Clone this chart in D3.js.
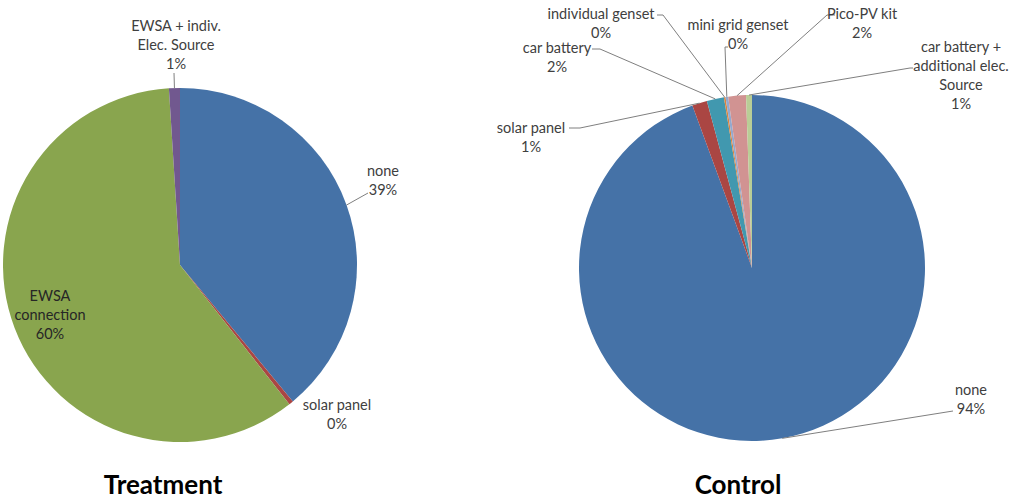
<!DOCTYPE html>
<html>
<head>
<meta charset="utf-8">
<script src="https://cdn.jsdelivr.net/npm/d3@7"></script>
<style>
  body { margin: 0; background: #fff; }
  svg { display: block; font-family: Lato, "Open Sans", sans-serif; }
</style>
</head>
<body>
<svg id="chart" width="1010" height="499"></svg>
<script>
// treatment group
const treatNames = ["none", "solar panel", "EWSA\nconnection", "EWSA + indiv.\nElec. Source"];
const treatValues = [39.0, 0.4, 59.6, 1.0];

// control group
const ctrlNames = ["none", "solar panel", "car battery", "individual genset", "mini grid genset",
  "Pico-PV kit", "car battery +\nadditional elec.\nSource"];
const ctrlValues = [94.4, 1.4, 1.6, 0.15, 0.25, 1.65, 0.55];

const titles = ["Treatment", "Control"];

const colorOf = {
  "none": "#4572A7",
  "solar panel": "#AA4643",
  "EWSA\nconnection": "#89A54E",
  "EWSA + indiv.\nElec. Source": "#71588F",
  "car battery": "#4198AF",
  "individual genset": "#DB843D",
  "mini grid genset": "#93A9CF",
  "Pico-PV kit": "#D19392",
  "car battery +\nadditional elec.\nSource": "#B9CD96"
};

const svg = d3.select("#chart");
const lineH = 19;

// where Excel put the labels (first line centre) + leader elbows
const treatLabels = {
  "none": { x: 383, y: 170, path: [[368, 193]] },
  "solar panel": { x: 337, y: 404 },
  "EWSA\nconnection": { x: 50, y: 295, dark: true },
  "EWSA + indiv.\nElec. Source": { x: 176, y: 25, path: [[174, 73]] }
};
const ctrlLabels = {
  "none": { x: 971, y: 389, path: [[953, 411]] },
  "solar panel": { x: 531, y: 127, path: [[580, 128], [569, 128]] },
  "car battery": { x: 557, y: 47, path: [[600, 49], [592, 49]] },
  "individual genset": { x: 601, y: 13, path: [[663, 15], [657, 15]] },
  "mini grid genset": { x: 738, y: 24, path: [[725, 47], [728, 47]] },
  "Pico-PV kit": { x: 862, y: 13, path: [[827, 15], [835, 15]] },
  "car battery +\nadditional elec.\nSource": { x: 961, y: 46, path: [[910, 68], [913, 68]] }
};

function drawPie(names, values, cx, cy, r, labels, title, titleX) {
  const data = names.map((n, i) => ({ name: n, value: values[i] }));
  const pie = d3.pie().sort(null).value(d => d.value);
  const arcs = pie(data);
  const arc = d3.arc().innerRadius(0).outerRadius(r);
  const edge = d3.arc().innerRadius(r).outerRadius(r);

  const g = svg.append("g").attr("transform", `translate(${cx},${cy})`);
  g.selectAll("path")
    .data(arcs)
    .enter()
    .append("path")
    .attr("d", arc)
    .attr("fill", d => colorOf[d.data.name]);

  arcs.forEach(a => {
    const spec = labels[a.data.name];
    if (!spec) return;
    if (spec.path) {
      const p = edge.centroid(a);
      const pts = [[cx + p[0], cy + p[1]]].concat(spec.path);
      svg.append("path")
        .attr("d", d3.line()(pts))
        .attr("fill", "none")
        .attr("stroke", "#7f7f7f")
        .attr("stroke-width", 1);
    }
    const lines = a.data.name.split("\n").concat([Math.round(a.data.value) + "%"]);
    const t = svg.append("text")
      .attr("text-anchor", "middle")
      .attr("fill", spec.dark ? "#262626" : "#404040")
      .style("font-size", "14.5px");
    lines.forEach((s, i) => {
      t.append("tspan")
        .attr("x", spec.x)
        .attr("y", spec.y + i * lineH)
        .attr("dominant-baseline", "central")
        .text(s);
    });
  });

  svg.append("text")
    .attr("x", titleX)
    .attr("y", 494)
    .attr("text-anchor", "middle")
    .attr("fill", "#000")
    .style("font-size", "26px")
    .style("font-weight", "bold")
    .text(title);
}

drawPie(treatNames, treatValues, 180, 265, 177, treatLabels, titles[0], 163);
drawPie(ctrlNames, ctrlValues, 752, 268, 173, ctrlLabels, titles[1], 738);
</script>
</body>
</html>
